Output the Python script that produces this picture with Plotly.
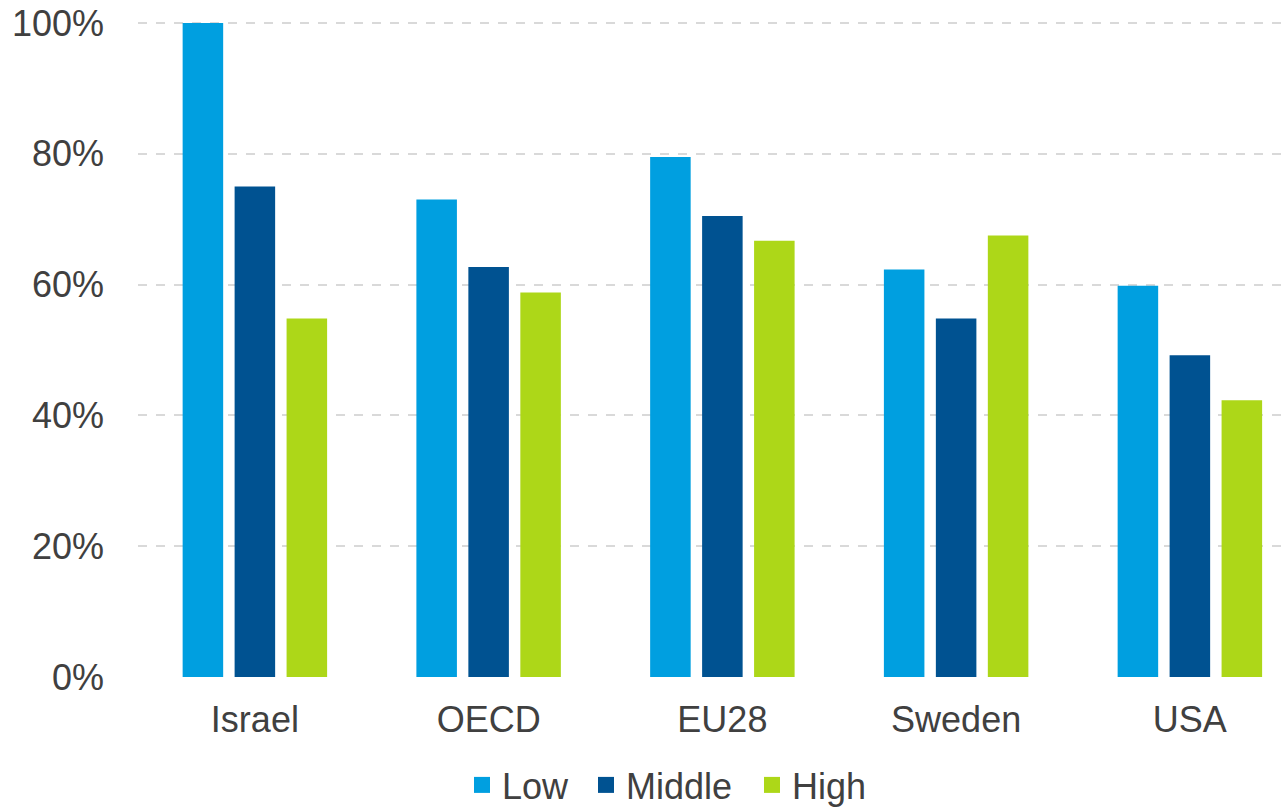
import plotly.graph_objects as go

categories = ["Israel", "OECD", "EU28", "Sweden", "USA"]
low = [100, 73, 79.5, 62.3, 59.8]
middle = [75, 62.7, 70.5, 54.8, 49.2]
high = [54.8, 58.8, 66.7, 67.5, 42.3]
y_tick_values = [0, 20, 40, 60, 80, 100]
y_tick_labels = ["0%", "20%", "40%", "60%", "80%", "100%"]

series = [("Low", low, "#009FE0"), ("Middle", middle, "#005291"), ("High", high, "#ADD718")]
legend_ids = ["legend", "legend2", "legend3"]
legend_left_px = [462, 586, 752]

fig = go.Figure()
for (name, vals, color), lid in zip(series, legend_ids):
    fig.add_trace(go.Bar(x=categories, y=vals, name=name, marker_color=color,
                         marker_line_width=0, showlegend=False))
    fig.add_trace(go.Scatter(x=[None], y=[None], mode="markers", name=name,
                             marker=dict(symbol="square", size=18, color=color),
                             legend=lid, showlegend=True))

font = dict(family="Liberation Sans, Arial, sans-serif", size=36, color="#404040")
W = 1285
legends = {}
for lid, px in zip(legend_ids, legend_left_px):
    legends[lid] = dict(orientation="h", xref="container", x=px / W, xanchor="left",
                        yref="container", y=22 / 807, yanchor="middle",
                        font=font, itemwidth=30, bgcolor="rgba(0,0,0,0)", borderwidth=0)

fig.update_layout(
    width=1285, height=807,
    margin=dict(l=138, r=0, t=20, b=130, autoexpand=False),
    plot_bgcolor="white", paper_bgcolor="white",
    barmode="group", bargap=0.333, bargroupgap=0.22,
    font=font,
    showlegend=True,
    **legends,
    xaxis=dict(range=[-0.5, -0.5 + 1147 / 233.75], showgrid=False, showline=False,
               ticks="", tickfont=font, ticklabelstandoff=18, automargin=False),
    yaxis=dict(range=[0, 100.45], tickmode="array", tickvals=y_tick_values,
               ticktext=y_tick_labels,
               showgrid=True, gridcolor="#D9D9D9", griddash="dash", gridwidth=1.5,
               zeroline=False, showline=False, ticks="", tickfont=font,
               ticklabelstandoff=33, automargin=False),
)
fig.write_html("out.html")
